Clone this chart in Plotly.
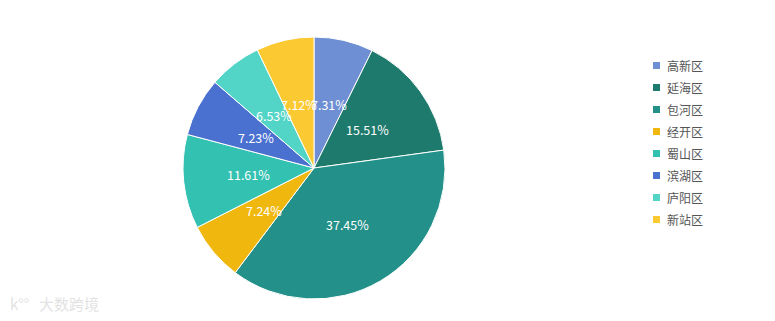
import math
import plotly.graph_objects as go

labels = ["高新区", "延海区", "包河区", "经开区", "蜀山区", "滨湖区", "庐阳区", "新站区"]
values = [7.31, 15.51, 37.45, 7.24, 11.61, 7.23, 6.53, 7.12]
colors = ["#6f8fd4", "#1e7a6c", "#239189", "#f0b80f", "#33c1b1", "#4a70d0", "#52d4c6", "#fbc932"]

W, H = 775, 321
cx, cy, r = 314, 168, 131
FONT = "Noto Sans CJK SC"

fig = go.Figure(go.Pie(
    labels=labels,
    values=values,
    sort=False,
    direction="clockwise",
    rotation=0,
    marker=dict(colors=colors, line=dict(color="white", width=1)),
    textinfo="none",
    hoverinfo="label+value",
    showlegend=False,
    domain=dict(x=[(cx - r) / W, (cx + r) / W], y=[(H - cy - r) / H, (H - cy + r) / H]),
))

# inside labels at half radius, slice mid-angle derived from the data
total = sum(values)
cum = 0.0
for v in values:
    mid = (cum + v / 2) / total * 2 * math.pi
    cum += v
    px = cx + 0.5 * r * math.sin(mid)
    py = cy - 0.5 * r * math.cos(mid)
    fig.add_annotation(
        text=f"{v:.2f}%", x=px / W, y=(H - py) / H, xref="paper", yref="paper",
        xanchor="center", yanchor="middle", showarrow=False,
        font=dict(size=12.5, color="white", family=FONT),
    )

# legend
lx, ly0, lstep = 653, 65.5, 22
for i, (lab, col) in enumerate(zip(labels, colors)):
    yy = ly0 + i * lstep
    fig.add_shape(type="rect", xref="paper", yref="paper",
                  x0=lx / W, x1=(lx + 7) / W, y0=(H - yy - 3.5) / H, y1=(H - yy + 3.5) / H,
                  fillcolor=col, line=dict(width=0))
    fig.add_annotation(
        text=lab, x=(lx + 12) / W, y=(H - yy) / H, xref="paper", yref="paper",
        xanchor="left", yanchor="middle", showarrow=False,
        font=dict(size=12, color="#555555", family=FONT),
    )

# watermark
fig.add_annotation(
    text="k°°", x=8 / W, y=(H - 303) / H, xref="paper", yref="paper",
    xanchor="left", yanchor="middle", showarrow=False,
    font=dict(size=15, color="#e3e3e3", family=FONT),
)
fig.add_annotation(
    text="大数跨境", x=37 / W, y=(H - 303) / H, xref="paper", yref="paper",
    xanchor="left", yanchor="middle", showarrow=False,
    font=dict(size=15, color="#e3e3e3", family=FONT),
)

fig.update_layout(
    width=W, height=H,
    margin=dict(l=0, r=0, t=0, b=0),
    paper_bgcolor="white",
    showlegend=False,
)

fig.write_html("out.html")
